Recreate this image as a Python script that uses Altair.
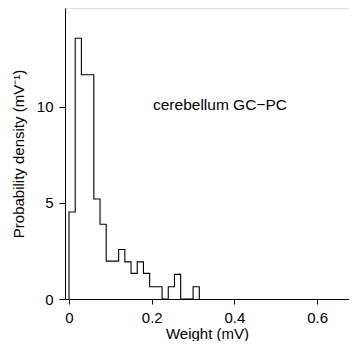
import altair as alt
import pandas as pd

# Histogram bin edges (mV) and probability density (mV^-1)
bin_edges = [0.000, 0.015, 0.030, 0.045, 0.060, 0.075, 0.090, 0.105, 0.120, 0.135,
             0.150, 0.165, 0.180, 0.195, 0.210, 0.225, 0.240, 0.255, 0.270, 0.285,
             0.300, 0.315]
density = [4.52, 13.56, 11.66, 11.66, 5.20, 3.89, 1.97, 1.97, 2.57, 1.93,
           1.33, 1.93, 1.33, 0.64, 0.64, 0.00, 0.64, 1.28, 0.00, 0.00, 0.64]
x_ticks = [0, 0.2, 0.4, 0.6]
y_ticks = [0, 5, 10]
annotation = "cerebellum GC\u2212PC"

# Step outline: start on baseline, step through bins, return to baseline
xs = [bin_edges[0]] + bin_edges[:-1] + [bin_edges[-1]]
ys = [0.0] + density + [0.0]
df = pd.DataFrame({"x": xs, "y": ys, "i": list(range(len(xs)))})

FONT = "Liberation Sans"

x_axis = alt.Axis(values=x_ticks, format="~g", grid=False, tickSize=5,
                  labelPadding=6, titlePadding=1, domainColor="black",
                  tickColor="black", labelColor="black", titleColor="black",
                  labelFontSize=15, titleFontSize=15, titleFontWeight="normal",
                  labelFont=FONT, titleFont=FONT)
y_axis = alt.Axis(values=y_ticks, grid=False, tickSize=6, labelPadding=6,
                  titlePadding=10, domainColor="black", tickColor="black",
                  labelColor="black", titleColor="black", labelFontSize=15,
                  titleFontSize=15, titleFontWeight="normal",
                  labelFont=FONT, titleFont=FONT)

line = alt.Chart(df).mark_line(interpolate="step-after", color="black",
                               strokeWidth=1.1, clip=False).encode(
    x=alt.X("x:Q", scale=alt.Scale(domain=[-0.0097, 0.677], nice=False, zero=False),
            axis=x_axis, title="Weight (mV)"),
    y=alt.Y("y:Q", scale=alt.Scale(domain=[0, 15.13], nice=False),
            axis=y_axis, title="Probability density (mV\u207b\u00b9)"),
    order="i:Q",
)

label = alt.Chart(pd.DataFrame({"t": [annotation]})).mark_text(
    align="left", baseline="middle", font=FONT, fontSize=15.5, color="black"
).encode(x=alt.value(88), y=alt.value(97), text="t:N")

chart = alt.layer(line, label).properties(
    width=284, height=291,
    autosize=alt.AutoSizeParams(type="none"),
    padding={"left": 57, "top": 0, "right": 0, "bottom": 42},
).configure_view(stroke=None).configure(background="white")

chart.save("out.html", embed_options={"renderer": "svg", "actions": False})
